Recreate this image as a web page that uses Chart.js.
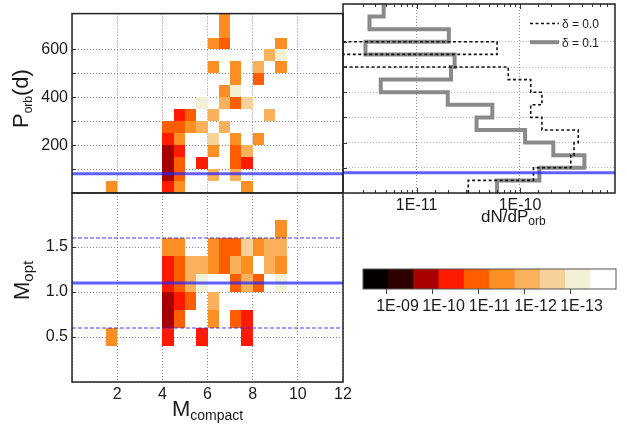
<!DOCTYPE html>
<html>
<head>
<meta charset="utf-8">
<title>P_orb / M_opt vs M_compact</title>
<script src="https://cdn.jsdelivr.net/npm/chart.js@4.4.1/dist/chart.umd.min.js"></script>
<style>
  html, body { margin: 0; padding: 0; background: #fff; }
  #wrap { position: relative; width: 627px; height: 428px; overflow: hidden; font-family: "Liberation Sans", Arial, sans-serif; color: #1a1a1a; }
  #wrap canvas { position: absolute; left: 0; top: 0; }
  .ttl { position: absolute; white-space: nowrap; font-size: 22px; line-height: 1; }
  .ttl .sb { position: relative; top: 4px; }
  .rot { transform-origin: 0 0; transform: rotate(-90deg); }
</style>
</head>
<body>
<div id="wrap">
  <canvas id="cPorb" width="627" height="428"></canvas>
  <canvas id="cMopt" width="627" height="428"></canvas>
  <canvas id="cHist" width="627" height="428"></canvas>
  <canvas id="cBar" width="627" height="428"></canvas>
  <div class="ttl rot" style="left:10px;top:128px">P<span class="sb" style="font-size:12px">orb</span>(d)</div>
  <div class="ttl rot" style="left:11px;top:300px">M<span class="sb" style="font-size:15px">opt</span></div>
  <div class="ttl" style="left:172px;top:398px">M<span class="sb" style="font-size:14px">compact</span></div>
  <div class="ttl" style="left:481px;top:208px;font-size:17px">dN/dP<span class="sb" style="font-size:12px;top:3px">orb</span></div>
</div>
<script>
// --- données ---
// axes
const mRange = [0, 12];
const porbRange = [0, 750];
const moptRange = [0, 2.1];
const histRange = [1.94e-12, 8.3e-10];

// largeur des cases
const mBin = 0.5;
const porbBin = 50;
const moptBin = 0.2;

// cases : [M_compact début, P_orb début, densité]
const porbCells = [
  [6.5, 700, 6e-12], [6.5, 650, 6e-12],
  [6.0, 600, 6e-12], [6.5, 600, 2e-11], [9.0, 600, 6e-12],
  [8.5, 550, 2e-12], [9.0, 550, 2e-13],
  [6.0, 500, 6e-12], [7.0, 500, 6e-12], [8.0, 500, 2e-12], [9.0, 500, 6e-12],
  [7.0, 450, 6e-12], [8.0, 450, 2e-11],
  [6.5, 400, 6e-12], [7.0, 400, 2e-13],
  [5.5, 350, 2e-13], [6.5, 350, 2e-12], [7.0, 350, 2e-11], [7.5, 350, 6e-13],
  [4.5, 300, 6e-11], [5.0, 300, 2e-11], [6.0, 300, 2e-12], [8.5, 300, 2e-12],
  [4.0, 250, 2e-11], [4.5, 250, 2e-11], [5.0, 250, 6e-12], [5.5, 250, 2e-12], [6.5, 250, 2e-12],
  [4.0, 200, 6e-11], [4.5, 200, 6e-12], [6.0, 200, 6e-13], [7.0, 200, 6e-12], [8.0, 200, 6e-12],
  [4.0, 150, 2e-10], [4.5, 150, 6e-11], [6.0, 150, 6e-12], [7.0, 150, 2e-11], [7.5, 150, 2e-12],
  [4.0, 100, 2e-10], [4.5, 100, 2e-11], [5.5, 100, 6e-11], [7.0, 100, 2e-11], [7.5, 100, 6e-11],
  [4.0, 50, 2e-10], [4.5, 50, 2e-11], [6.0, 50, 2e-12], [7.0, 50, 2e-12],
  [1.5, 0, 6e-12], [4.0, 0, 6e-11], [4.5, 0, 6e-12], [7.5, 0, 6e-12]
];

// cases : [M_compact début, M_opt début, densité]
const moptCells = [
  [9.0, 1.6, 6e-12],
  [4.0, 1.4, 6e-12], [4.5, 1.4, 6e-12], [6.0, 1.4, 6e-12], [6.5, 1.4, 2e-11], [7.0, 1.4, 2e-11],
  [7.5, 1.4, 6e-13], [8.0, 1.4, 6e-12], [8.5, 1.4, 2e-12], [9.0, 1.4, 2e-12],
  [4.0, 1.2, 6e-11], [4.5, 1.2, 2e-11], [5.0, 1.2, 2e-12], [5.5, 1.2, 2e-12], [6.0, 1.2, 6e-12],
  [6.5, 1.2, 2e-11], [7.0, 1.2, 2e-12], [7.5, 1.2, 6e-12], [8.5, 1.2, 2e-12], [9.0, 1.2, 6e-12],
  [4.0, 1.0, 6e-11], [4.5, 1.0, 2e-11], [5.0, 1.0, 2e-12], [5.5, 1.0, 2e-13],
  [7.0, 1.0, 2e-11], [7.5, 1.0, 2e-12], [8.0, 1.0, 2e-11], [9.0, 1.0, 2e-13],
  [4.0, 0.8, 2e-10], [4.5, 0.8, 6e-11], [5.0, 0.8, 2e-11], [6.0, 0.8, 2e-12],
  [4.0, 0.6, 2e-10], [4.5, 0.6, 2e-11], [6.0, 0.6, 6e-12], [7.0, 0.6, 2e-11], [7.5, 0.6, 6e-11],
  [1.5, 0.4, 6e-12], [4.0, 0.4, 6e-11], [5.5, 0.4, 6e-11], [7.5, 0.4, 6e-11]
];

// histogramme dN/dP_orb, classes de bas en haut
const porbEdges = [0, 50, 100, 150, 200, 250, 300, 350, 400, 450, 500, 550, 600, 650, 700, 750];
const histDelta00 = [3.16e-11, 1.35e-10, 3.1e-10, 3.33e-10, 3.66e-10, 1.63e-10, 1.27e-10, 1.63e-10,
                     1.27e-10, 7.7e-11, 0, 6.0e-11, 0, 0, 0];
const histDelta01 = [6.0e-11, 1.54e-10, 4.2e-10, 2.1e-10, 1.12e-10, 3.8e-11, 5.4e-11, 2.0e-11,
                     4.5e-12, 2.15e-11, 2.33e-11, 3.2e-12, 2.05e-11, 3.5e-12, 4.8e-12];

// lignes de référence
const porbRef = 80;
const moptRef = 1.1;
const moptBand = [0.6, 1.6];

// échelle de couleurs (une case par demi-décade, 1E-09 entre la 1re et la 2e)
const cbColors = ['#050000', '#2e0000', '#a80000', '#ff1a00', '#ff5e00',
                  '#fb8f23', '#fbb05c', '#f5d29a', '#f2f0d5', '#ffffff'];
const cbTickValues = [1e-9, 1e-10, 1e-11, 1e-12, 1e-13];

// --- styles ---
const W = 627, H = 428;
const gridColor = '#8a8a8a';
const gridLight = '#b5b5b5';
const gridDash = [1, 2];
const refColor = 'rgba(35, 35, 255, 0.72)';
const bandColor = 'rgba(40, 40, 255, 0.9)';

Chart.defaults.font.family = '"Liberation Sans", Arial, sans-serif';
Chart.defaults.font.size = 16;
Chart.defaults.color = '#1a1a1a';
Chart.defaults.animation = false;

function levelColor(v) {
  let k = Math.ceil(2 * (-9 - Math.log10(v)));
  k = Math.min(Math.max(k, 0), cbColors.length - 1);
  return cbColors[k];
}

function expLabel(v) {
  const e = Math.log10(v);
  if (Math.abs(e - Math.round(e)) > 1e-6) return '';
  const n = Math.round(e);
  return '1E' + (n < 0 ? '-' : '+') + String(Math.abs(n)).padStart(2, '0');
}

// position d'une valeur sur la barre de couleurs (en cases)
function cbPos(v) {
  return 2 * (-9 - Math.log10(v)) + 1;
}

function cbLabelAt(pos) {
  const hit = cbTickValues.find(v => Math.abs(cbPos(v) - pos) < 1e-6);
  return hit ? expLabel(hit) : '';
}

function stepPoints(vals) {
  const pts = [];
  vals.forEach((v, i) => {
    // classe vide -> hors du graphe, à gauche
    const xv = v > 0 ? v : histRange[0] / 100;
    pts.push({ x: xv, y: porbEdges[i] }, { x: xv, y: porbEdges[i + 1] });
  });
  return pts;
}

// --- plugins ---
const cellsPlugin = {
  id: 'cells',
  beforeDatasetsDraw(chart) {
    const { ctx, chartArea: a, scales: { x, y } } = chart;
    ctx.save();
    ctx.beginPath();
    ctx.rect(a.left, a.top, a.right - a.left, a.bottom - a.top);
    ctx.clip();
    chart.data.datasets.forEach(ds => {
      if (!ds.binW) return;
      ds.data.forEach(c => {
        const x0 = Math.round(x.getPixelForValue(c.x));
        const x1 = Math.round(x.getPixelForValue(c.x + ds.binW));
        const y0 = Math.round(y.getPixelForValue(c.y + ds.binH));
        const y1 = Math.round(y.getPixelForValue(c.y));
        ctx.fillStyle = levelColor(c.v);
        ctx.fillRect(x0, y0, x1 - x0, y1 - y0);
      });
    });
    ctx.restore();
  }
};

const framePlugin = {
  id: 'frame',
  afterDraw(chart, args, opts) {
    const { ctx, chartArea: a } = chart;
    ctx.save();
    ctx.strokeStyle = opts.color || '#222';
    ctx.lineWidth = opts.width || 1.5;
    ctx.strokeRect(a.left, a.top, a.right - a.left, a.bottom - a.top);
    ctx.restore();
  }
};

const innerTicksPlugin = {
  id: 'innerTicks',
  afterDatasetsDraw(chart, args, opts) {
    const { ctx, chartArea: a } = chart;
    ctx.save();
    ctx.strokeStyle = '#333';
    ctx.lineWidth = 1;
    (opts.axes || []).forEach(cfg => {
      const s = chart.scales[cfg.id];
      s.ticks.forEach(t => {
        let len = cfg.len;
        if (cfg.log && !expLabel(t.value)) len = cfg.len * 0.6;
        const p = Math.round(s.getPixelForValue(t.value)) + 0.5;
        ctx.beginPath();
        if (s.isHorizontal()) {
          if (p < a.left + 2 || p > a.right - 2) return;
          cfg.sides.forEach(side => {
            const y0 = side === 'top' ? a.top : a.bottom;
            const d = side === 'top' ? len : -len;
            ctx.moveTo(p, y0); ctx.lineTo(p, y0 + d);
          });
        } else {
          if (p < a.top + 2 || p > a.bottom - 2) return;
          cfg.sides.forEach(side => {
            const x0 = side === 'left' ? a.left : a.right;
            const d = side === 'left' ? len : -len;
            ctx.moveTo(x0, p); ctx.lineTo(x0 + d, p);
          });
        }
        ctx.stroke();
      });
    });
    ctx.restore();
  }
};

const histLegend = {
  id: 'histLegend',
  afterDraw(chart) {
    const { ctx, chartArea: a } = chart;
    let row = 0;
    chart.data.datasets.forEach(ds => {
      if (ds.label.indexOf('δ') !== 0) return;
      const y = a.top + 19.5 + row * 18.7;
      ctx.save();
      ctx.strokeStyle = ds.borderColor;
      ctx.lineWidth = ds.borderWidth;
      ctx.setLineDash(ds.borderDash || []);
      ctx.beginPath();
      ctx.moveTo(a.right - 85, y);
      ctx.lineTo(a.right - 56, y);
      ctx.stroke();
      ctx.setLineDash([]);
      ctx.fillStyle = '#1a1a1a';
      ctx.font = '12px "Liberation Sans", Arial, sans-serif';
      ctx.textBaseline = 'middle';
      ctx.fillText(ds.label, a.right - 53, y + 1);
      ctx.restore();
      row++;
    });
  }
};

const baseOpts = { responsive: false, events: [] };

// --- P_orb vs M_compact ---
new Chart(document.getElementById('cPorb'), {
  type: 'scatter',
  data: {
    datasets: [
      { label: 'P_orb ref', data: [{ x: mRange[0], y: porbRef }, { x: mRange[1], y: porbRef }],
        showLine: true, borderColor: refColor, borderWidth: 3, pointRadius: 0 },
      { label: 'cells', data: porbCells.map(c => ({ x: c[0], y: c[1], v: c[2] })),
        pointRadius: 0, binW: mBin, binH: porbBin }
    ]
  },
  options: {
    ...baseOpts,
    layout: { padding: { left: 0, top: 4, right: W - 343, bottom: H - 193 } },
    plugins: {
      legend: { display: false }, tooltip: { enabled: false },
      frame: { color: '#222', width: 1.5 },
      innerTicks: { axes: [{ id: 'y', sides: ['left'], len: 4 }] }
    },
    scales: {
      x: { type: 'linear', min: mRange[0], max: mRange[1],
           ticks: { display: false, stepSize: 2 },
           grid: { color: gridColor, drawTicks: false },
           border: { display: false, dash: gridDash },
           afterFit(s) { s.height = 0; } },
      y: { type: 'linear', min: porbRange[0], max: porbRange[1],
           ticks: { stepSize: 100, padding: 4, callback: v => (v > 0 && v % 200 === 0) ? String(v) : '' },
           grid: { color: gridColor, drawTicks: false },
           border: { display: false, dash: gridDash },
           afterFit(s) { s.width = 72; } }
    }
  },
  plugins: [cellsPlugin, framePlugin, innerTicksPlugin]
});

// --- M_opt vs M_compact ---
new Chart(document.getElementById('cMopt'), {
  type: 'scatter',
  data: {
    datasets: [
      { label: 'M_opt ref', data: [{ x: mRange[0], y: moptRef }, { x: mRange[1], y: moptRef }],
        showLine: true, borderColor: refColor, borderWidth: 3, pointRadius: 0 },
      { label: 'M_opt min', data: [{ x: mRange[0], y: moptBand[0] }, { x: mRange[1], y: moptBand[0] }],
        showLine: true, borderColor: bandColor, borderWidth: 1, borderDash: [4, 2], pointRadius: 0 },
      { label: 'M_opt max', data: [{ x: mRange[0], y: moptBand[1] }, { x: mRange[1], y: moptBand[1] }],
        showLine: true, borderColor: bandColor, borderWidth: 1, borderDash: [4, 2], pointRadius: 0 },
      { label: 'cells', data: moptCells.map(c => ({ x: c[0], y: c[1], v: c[2] })),
        pointRadius: 0, binW: mBin, binH: moptBin }
    ]
  },
  options: {
    ...baseOpts,
    layout: { padding: { left: 0, top: 193, right: W - 343, bottom: H - 382 - 24 } },
    plugins: {
      legend: { display: false }, tooltip: { enabled: false },
      frame: { color: '#222', width: 1.5 },
      innerTicks: { axes: [{ id: 'y', sides: ['left'], len: 4 }] }
    },
    scales: {
      x: { type: 'linear', min: mRange[0], max: mRange[1],
           ticks: { stepSize: 2, padding: 3, maxRotation: 0, callback: v => v > 0 ? String(v) : '' },
           grid: { color: gridColor, drawTicks: false },
           border: { display: false, dash: gridDash },
           afterFit(s) { s.height = 24; } },
      y: { type: 'linear', min: moptRange[0], max: moptRange[1],
           ticks: { stepSize: 0.5, padding: 4,
                    callback: v => (v > 0 && v <= 2 && Math.abs(v * 2 - Math.round(v * 2)) < 1e-6) ? v.toFixed(1) : '' },
           grid: { color: gridColor, drawTicks: false },
           border: { display: false, dash: gridDash },
           afterFit(s) { s.width = 72; } }
    }
  },
  plugins: [cellsPlugin, framePlugin, innerTicksPlugin]
});

// --- histogramme dN/dP_orb ---
new Chart(document.getElementById('cHist'), {
  type: 'scatter',
  data: {
    datasets: [
      { label: 'P_orb ref', data: [{ x: histRange[0], y: porbRef }, { x: histRange[1], y: porbRef }],
        showLine: true, borderColor: refColor, borderWidth: 3, pointRadius: 0 },
      { label: 'δ = 0.0', data: stepPoints(histDelta00), showLine: true,
        borderColor: '#111', borderWidth: 1.6, borderDash: [3, 2.5], pointRadius: 0,
        borderJoinStyle: 'miter' },
      { label: 'δ = 0.1', data: stepPoints(histDelta01), showLine: true,
        borderColor: '#8a8a8a', borderWidth: 4, pointRadius: 0, borderJoinStyle: 'miter' }
    ]
  },
  options: {
    ...baseOpts,
    layout: { padding: { left: 343, top: 4, right: W - 615, bottom: H - 193 - 24 } },
    plugins: {
      legend: { display: false }, tooltip: { enabled: false },
      frame: { color: '#222', width: 1.5 },
      innerTicks: { axes: [{ id: 'x', sides: ['top', 'bottom'], len: 5, log: true },
                           { id: 'y', sides: ['left'], len: 4 }] }
    },
    scales: {
      x: { type: 'logarithmic', min: histRange[0], max: histRange[1],
           ticks: { autoSkip: false, maxRotation: 0, padding: 3, callback: v => expLabel(v) },
           grid: { drawTicks: false,
                   color: c => (c.tick && expLabel(c.tick.value)) ? gridColor : 'rgba(0,0,0,0)' },
           border: { display: false, dash: gridDash },
           afterFit(s) { s.height = 24; } },
      y: { type: 'linear', min: porbRange[0], max: porbRange[1],
           ticks: { display: false, stepSize: 100 },
           grid: { color: gridLight, drawTicks: false },
           border: { display: false, dash: gridDash },
           afterFit(s) { s.width = 0; } }
    }
  },
  plugins: [framePlugin, innerTicksPlugin, histLegend]
});

// --- barre de couleurs ---
new Chart(document.getElementById('cBar'), {
  type: 'bar',
  data: {
    labels: cbColors.map((c, i) => i),
    datasets: [{ data: cbColors.map(() => [0, 1]), backgroundColor: cbColors, borderWidth: 0,
                 barPercentage: 1, categoryPercentage: 1 }]
  },
  options: {
    ...baseOpts,
    layout: { padding: { left: 363, top: 269, right: W - 616, bottom: H - 289 - 30 } },
    plugins: { legend: { display: false }, tooltip: { enabled: false }, frame: { color: '#555', width: 1 } },
    scales: {
      x: { display: false },
      x2: { type: 'linear', position: 'bottom', min: 0, max: cbColors.length,
            ticks: { stepSize: 1, padding: 3, maxRotation: 0, autoSkip: false, callback: v => cbLabelAt(v) },
            grid: { drawOnChartArea: false, drawTicks: true, tickLength: 5,
                    color: c => (c.tick && cbLabelAt(c.tick.value)) ? '#444' : 'rgba(0,0,0,0)' },
            border: { display: false },
            afterFit(s) { s.height = 30; } },
      y: { display: false, min: 0, max: 1 }
    }
  },
  plugins: [framePlugin]
});
</script>
</body>
</html>
